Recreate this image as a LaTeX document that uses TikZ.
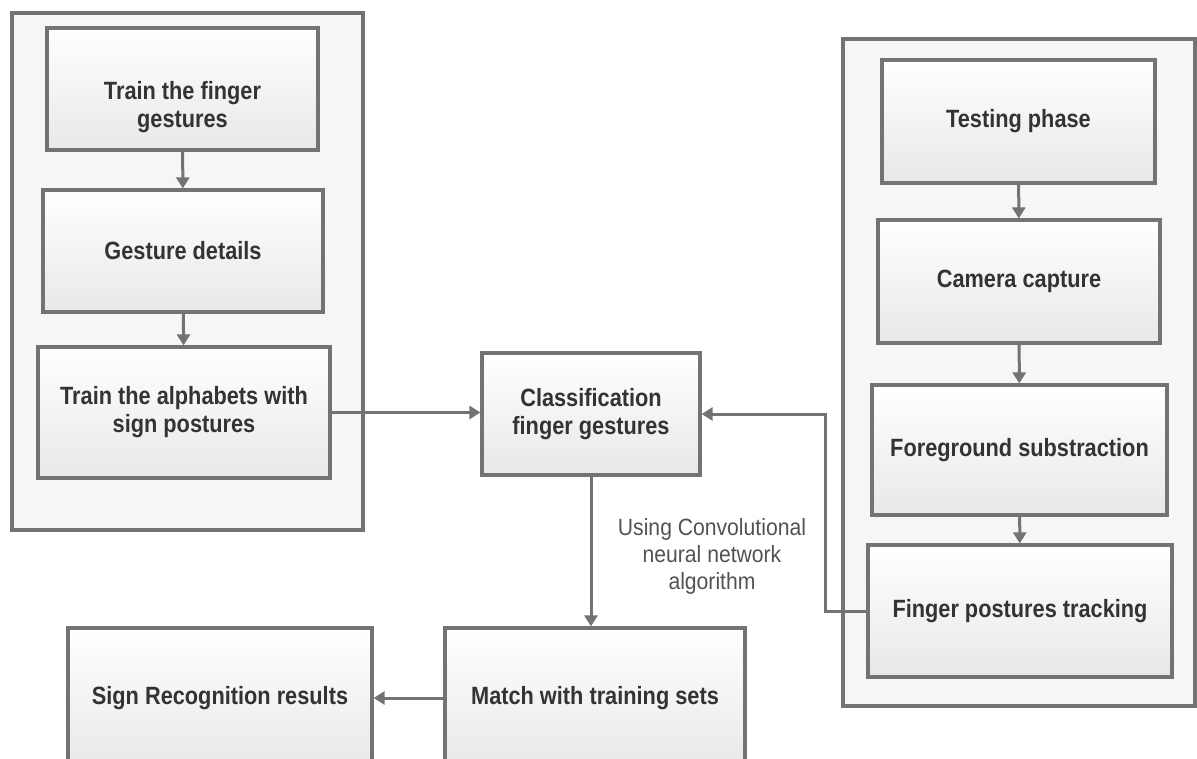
\documentclass[tikz,border=0pt]{standalone}
\usepackage{fontspec}
\setmainfont{Liberation Sans}
\newfontfamily\boxfont{Liberation Sans}[FakeStretch=0.87]
\newfontfamily\notefont{Liberation Sans}[FakeStretch=0.9]
\usetikzlibrary{arrows.meta,calc}

\definecolor{edge}{HTML}{737373}
\definecolor{ink}{HTML}{333333}
\definecolor{panelfill}{HTML}{F6F6F6}

\begin{document}
\begin{tikzpicture}[
  x=1pt, y=-1pt,
  panel/.style={draw=edge, line width=3.2pt, fill=panelfill},
  stage/.style={draw=edge, line width=3.2pt, top color=white, bottom color=black!9,
    align=center, text=ink, inner sep=4pt,
    font=\boxfont\fontsize{25}{28}\selectfont\bfseries},
  arr/.style={-{Triangle[width=13pt,length=11pt]}, draw=edge, line width=3pt},
  note/.style={align=center, text=ink!85, font=\notefont\fontsize{23.5}{27}\selectfont}
]
\useasboundingbox (0,0) rectangle (1197,758);
\clip (0,0) rectangle (1197,758);

% training and testing panels
\draw[panel] (12,13) rectangle (363,530);
\draw[panel] (843,39) rectangle (1195,706);

% training side
\node[stage, minimum width=271, minimum height=122] (tfg) at (182.5,89) {};
\node[align=center, text=ink, font=\boxfont\fontsize{25}{28}\selectfont\bfseries] (tfgt) at (182.5,107) {Train the finger\\gestures};
\node[stage, minimum width=280, minimum height=122] (gd) at (183,251) {Gesture details};
\node[stage, minimum width=292, minimum height=131] (tas) at (184,412.5) {Train the alphabets with\\sign postures};

% centre
\node[stage, minimum width=218, minimum height=122] (cfg) at (591,414) {Classification\\finger gestures};
\node[stage, minimum width=300, minimum height=140] (mts) at (595,698) {Match with training sets};
\node[stage, minimum width=304, minimum height=140] (srr) at (220,698) {Sign Recognition results};
\node[note] (cnn) at (712,556) {Using Convolutional\\neural network\\algorithm};

% testing side
\node[stage, minimum width=273, minimum height=123] (tp) at (1018.5,121.5) {Testing phase};
\node[stage, minimum width=282, minimum height=123] (cc) at (1019,281.5) {Camera capture};
\node[stage, minimum width=295, minimum height=130] (fs) at (1019.5,450) {Foreground substraction};
\node[stage, minimum width=304, minimum height=132] (fpt) at (1020,611) {Finger postures tracking};

\draw[arr] (tfg) -- (gd);
\draw[arr] (gd) -- (tas);
\draw[arr] (tas.east) -- (tas.east -| cfg.west);
\draw[arr] (cfg) -- (cfg |- mts.north);
\draw[arr] (mts) -- (srr);
\draw[arr] (tp) -- (cc);
\draw[arr] (cc) -- (fs);
\draw[arr] (fs) -- (fpt);
\coordinate (fb) at (825,611);
\draw[arr] (fpt.west) -- (fb) |- (cfg.east);

\end{tikzpicture}
\end{document}
